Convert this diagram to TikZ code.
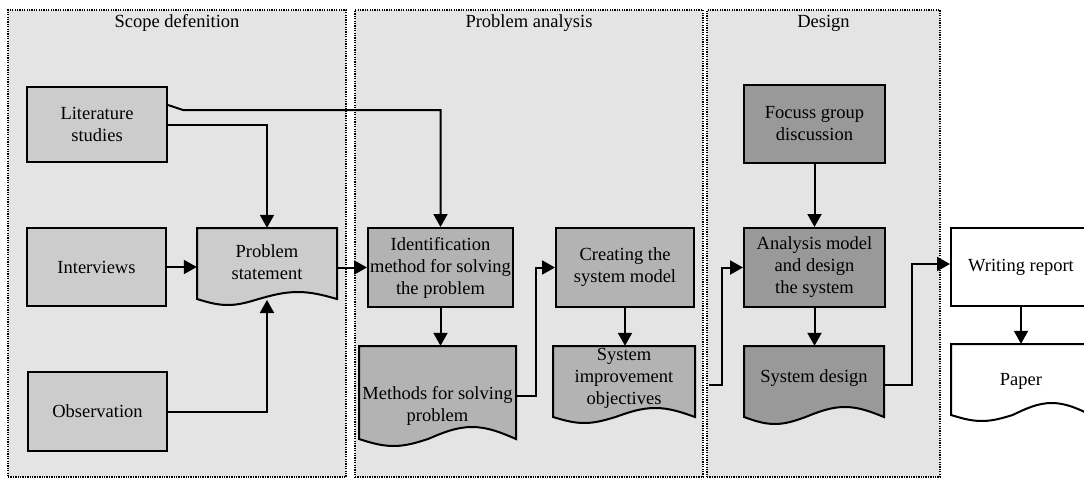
\documentclass[tikz,border=0pt]{standalone}
\usepackage{fontspec}
\setmainfont{Liberation Serif}
\usetikzlibrary{arrows.meta,calc}

\definecolor{panelgray}{HTML}{E4E4E4}
\definecolor{scopegray}{HTML}{CCCCCC}
\definecolor{analysisgray}{HTML}{B3B3B3}
\definecolor{designgray}{HTML}{999999}

\newcommand\bodyfont{\fontsize{18.5}{22}\selectfont}

% Document sheet with a wavy lower edge:
% #1 left, #2 top, #3 right, #4 base of the wave, #5 trough depth, #6 crest height, #7 fill
\newcommand\docsheet[7]{%
  \path[sheetline, fill=#7]
    (#1,#2) -- (#3,#2) -- (#3,#4)
    sin ({#1+0.72*(#3-#1)},{#4-#6})
    cos ({#1+0.44*(#3-#1)},#4)
    sin ({#1+0.22*(#3-#1)},{#4+#5})
    cos (#1,#4) -- cycle;}

\tikzset{
  panel/.style={draw, fill=panelgray, line width=1.6pt,
    dash pattern=on 1.3pt off 1.1pt, inner sep=0},
  paneltitle/.style={font=\bodyfont, inner sep=0},
  stepbox/.style={draw, line width=2pt, align=center, font=\bodyfont, inner sep=0},
  sheetline/.style={draw, line width=2pt},
  sheettext/.style={align=center, font=\bodyfont, inner sep=0},
  flow/.style={line width=2pt, -{Triangle[length=13pt,width=14pt]}},
}

\begin{document}
\begin{tikzpicture}[x=1pt,y=-1pt]
\useasboundingbox (0,0) rectangle (1084,479);
\clip (0,0) rectangle (1084,479);

% phase panels
\node[panel, minimum width=338, minimum height=467] (scope) at (177,243.5) {};
\node[panel, minimum width=348, minimum height=467] (analysis) at (529,243.5) {};
\node[panel, minimum width=233, minimum height=467] (design) at (823.5,243.5) {};
\node[paneltitle] (scopetitle) at (177,23) {Scope defenition};
\node[paneltitle] (analysistitle) at (529,23) {Problem analysis};
\node[paneltitle] (designtitle) at (823.5,23) {Design};

% scope definition
\node[stepbox, fill=scopegray, minimum width=140, minimum height=75] (lit) at (97,124.5) {Literature\\studies};
\node[stepbox, fill=scopegray, minimum width=139, minimum height=78] (intv) at (96.5,267) {Interviews};
\node[stepbox, fill=scopegray, minimum width=139, minimum height=79] (obs) at (97.5,411.5) {Observation};
\docsheet{197}{228}{337}{299}{6}{7}{scopegray}
\node[sheettext, minimum width=140, minimum height=69] (ps) at (267,262.5) {Problem\\statement};
\coordinate (psbase) at (267,300);

% problem analysis
\node[stepbox, fill=analysisgray, minimum width=145, minimum height=79] (ident) at (440.5,267.5) {Identification\\method for solving\\the problem};
\node[stepbox, fill=analysisgray, minimum width=138, minimum height=79] (creat) at (625,267.5) {Creating the\\system model};
\docsheet{359}{346}{516}{439}{7}{12}{analysisgray}
\node[sheettext, minimum width=157, minimum height=120] (meth) at (437.5,406) {Methods for solving\\problem};
\docsheet{553}{346}{695}{417}{6}{9}{analysisgray}
\node[sheettext, minimum width=142, minimum height=64] (sio) at (624,378) {System\\improvement\\objectives};

% design
\node[stepbox, fill=designgray, minimum width=141, minimum height=78] (focus) at (814.5,124) {Focuss group\\discussion};
\node[stepbox, fill=designgray, minimum width=141, minimum height=79] (anal) at (814.5,267.5) {Analysis model\\and design\\the system};
\docsheet{744}{346}{884}{417}{7}{10}{designgray}
\node[sheettext, minimum width=140, minimum height=64] (sdes) at (814,378) {System design};

% reporting
\node[stepbox, fill=white, minimum width=140, minimum height=78] (write) at (1021,267) {Writing report};
\docsheet{951}{344}{1091}{415}{6}{12}{white}
\node[sheettext, minimum width=140, minimum height=74] (paper) at (1021,381) {Paper};

% connectors
\coordinate (litbend) at (183,110);
\draw[flow] ([yshift=19.5pt]lit.east) -- (litbend) -| (ident.north);
\draw[flow] (lit.east) -| (ps.north);
\draw[flow] (intv.east) -- (intv.east -| ps.west);
\draw[flow] (obs.east) -| (psbase);
\draw[flow] (ident.west -| ps.east) -- (ident.west);
\draw[flow] (ident.south) -- (ident.south |- meth.north);
\draw[flow] ([yshift=10pt]meth.east) -- ++(20,0) |- (creat.west);
\draw[flow] (creat.south) -- (creat.south |- sio.north);
\coordinate (sioout) at (709,385);
\draw[flow] (sioout) -- ++(13,0) |- (anal.west);
\draw[flow] (focus.south) -- (anal.north);
\draw[flow] (anal.south) -- (anal.south |- sdes.north);
\draw[flow] ([yshift=-7pt]sdes.east) -- ++(28,0) |- ([yshift=3pt]write.west);
\draw[flow] (write.south) -- (write.south |- paper.north);
\end{tikzpicture}
\end{document}
